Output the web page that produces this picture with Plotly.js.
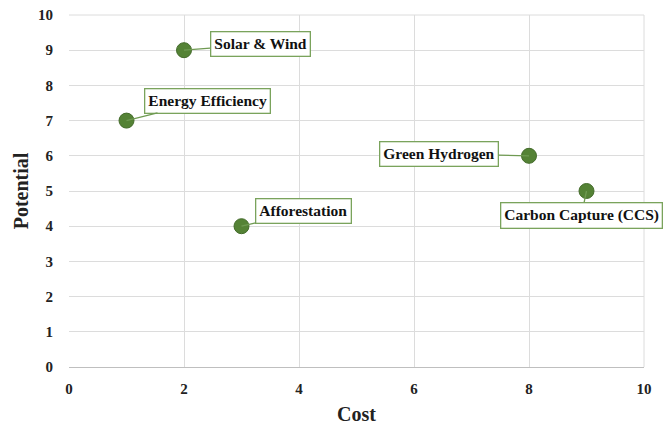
<!DOCTYPE html>
<html><head><meta charset="utf-8">
<script src="https://cdn.plot.ly/plotly-3.0.1.min.js"></script>
<style>html,body{margin:0;padding:0;background:#fff}#chart{width:672px;height:430px}</style>
</head><body><div id="chart"></div>
<script>
const labels = ["Solar & Wind","Energy Efficiency","Afforestation","Green Hydrogen","Carbon Capture (CCS)"];
const cost = [2,1,3,8,9];
const potential = [9,7,4,6,5];
const labelOffsetX = [76,81,62,-90,-5];
const labelOffsetY = [-6,-20,-15,-2,24];

const FONT = "Liberation Serif, DejaVu Serif, serif";
const trace = {
  x: cost, y: potential, mode: "markers", type: "scatter",
  marker: {size: 15, color: "#548235", line: {color: "#436b2a", width: 1}},
  hoverinfo: "skip", cliponaxis: false
};
const annotations = labels.map((t,i)=>({
  x: cost[i], y: potential[i], xref: "x", yref: "y",
  text: "<b>"+t+"</b>", showarrow: true, arrowhead: 0, arrowwidth: 1.3, arrowcolor: "#6f9a52",
  ax: labelOffsetX[i], ay: labelOffsetY[i],
  bordercolor: "#7aa35c", borderwidth: 1.3, borderpad: 3, bgcolor: "#fff",
  font: {family: FONT, size: 15.5, color: "#111"}
}));
const layout = {
  width: 672, height: 430,
  margin: {l: 69, r: 28, t: 15, b: 63},
  paper_bgcolor: "#fff", plot_bgcolor: "#fff",
  showlegend: false,
  font: {family: FONT, color: "#222"},
  xaxis: {range: [0,10], dtick: 2, tick0: 0, showgrid: true, gridcolor: "#dcdcdc", gridwidth: 1,
    zeroline: false, showline: true, linecolor: "#bfbfbf", linewidth: 1.3, mirror: false,
    ticks: "outside", ticklen: 8, tickcolor: "rgba(0,0,0,0)", tickfont: {family: FONT, size: 15, color: "#222"}, tickprefix: "<b>", ticksuffix: "</b>",
    title: {text: "<b>Cost</b>", font: {family: FONT, size: 20, color: "#222"}, standoff: 10}},
  yaxis: {range: [0,10], dtick: 1, tick0: 0, showgrid: true, gridcolor: "#dcdcdc", gridwidth: 1,
    zeroline: false, showline: false,
    ticks: "outside", ticklen: 12, tickcolor: "rgba(0,0,0,0)", tickfont: {family: FONT, size: 15, color: "#222"}, tickprefix: "<b>", ticksuffix: "</b>",
    title: {text: "<b>Potential</b>", font: {family: FONT, size: 20, color: "#222"}, standoff: 4}},
  shapes: [
    {type:"line", xref:"paper", yref:"paper", x0:0, x1:1, y0:1, y1:1, line:{color:"#dcdcdc", width:1}},
    {type:"line", xref:"paper", yref:"paper", x0:1, x1:1, y0:0, y1:1, line:{color:"#dcdcdc", width:1}}
  ],
  annotations: annotations
};
Plotly.newPlot("chart", [trace], layout, {displayModeBar: false, staticPlot: true});
</script></body></html>
